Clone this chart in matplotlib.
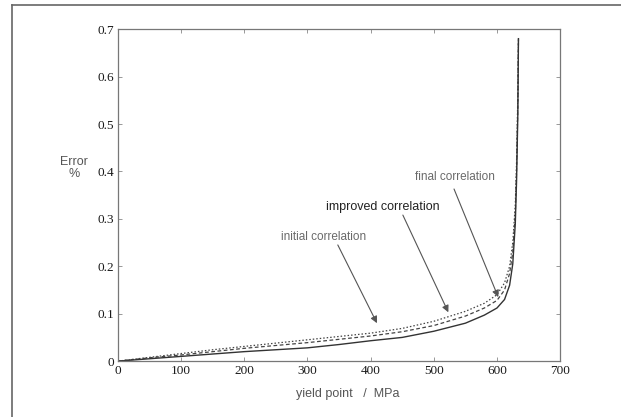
import matplotlib
matplotlib.use("Agg")
import matplotlib.pyplot as plt
from matplotlib.lines import Line2D

# yield point (MPa) and error (%)
yield_pts = [0, 50, 100, 150, 200, 250, 300, 350, 400, 450, 500, 550, 580,
             600, 612, 620, 625, 629, 631, 633, 634]
err_initial = [0, 0.008, 0.016, 0.024, 0.031, 0.038, 0.045, 0.052, 0.059,
               0.069, 0.084, 0.105, 0.122, 0.140, 0.165, 0.200, 0.250,
               0.330, 0.420, 0.560, 0.680]
err_improved = [0, 0.007, 0.013, 0.020, 0.027, 0.033, 0.039, 0.046, 0.053,
                0.062, 0.075, 0.095, 0.112, 0.128, 0.150, 0.185, 0.230,
                0.310, 0.400, 0.540, 0.680]
err_final = [0, 0.005, 0.010, 0.015, 0.020, 0.024, 0.028, 0.035, 0.043,
             0.050, 0.063, 0.080, 0.097, 0.112, 0.130, 0.160, 0.205,
             0.290, 0.380, 0.520, 0.680]

x_ticks = [0, 100, 200, 300, 400, 500, 600, 700]
y_ticks = [0, 0.1, 0.2, 0.3, 0.4, 0.5, 0.6, 0.7]
y_tick_labels = ["0", "0.1", "0.2", "0.3", "0.4", "0.5", "0.6", "0.7"]

# (label, text position, arrow start, arrow tip) in data units
notes = [
    ("initial correlation", (325, 0.261), (348, 0.245), (410, 0.080)),
    ("improved correlation", (420, 0.325), (451, 0.308), (523, 0.103)),
    ("final correlation", (534, 0.388), (532, 0.363), (602, 0.135)),
]

GREY = "#555555"
sans = ["Liberation Sans", "DejaVu Sans"]
serif = ["Liberation Serif", "DejaVu Serif"]

fig = plt.figure(figsize=(6.21, 4.17), dpi=100)
ax = fig.add_axes([0.190, 0.134, 0.712, 0.796])

ax.plot(yield_pts, err_initial, color="#444444", lw=0.9, ls=(0, (1.2, 1.6)))
ax.plot(yield_pts, err_improved, color="#444444", lw=0.9, ls=(0, (3, 2)))
ax.plot(yield_pts, err_final, color="#333333", lw=1.0)

ax.set_xlim(0, 700)
ax.set_ylim(0, 0.7)
ax.set_xticks(x_ticks)
ax.set_yticks(y_ticks)
ax.set_yticklabels(y_tick_labels)
ax.tick_params(direction="in", length=3, width=0.6, color="#888888",
               top=True, right=True, labelsize=9.5, labelcolor="#1a1a1a", pad=3)
for lab in ax.get_xticklabels() + ax.get_yticklabels():
    lab.set_family(serif)
for sp in ax.spines.values():
    sp.set_color("#777777")
    sp.set_linewidth(0.9)

ax.set_xlabel("yield point   /  MPa", fontsize=9, color=GREY, family=sans,
              labelpad=8, x=0.52)
fig.text(74 / 621, 1 - 168 / 417, "Error\n%", fontsize=9, color=GREY,
         family=sans, ha="center", va="center", linespacing=1.1)

for label, txt, start, tip in notes:
    dark = label.startswith("improved")
    ax.text(txt[0], txt[1], label, fontsize=9 if dark else 8.5,
            color="#222222" if dark else "#6a6a6a", family=sans,
            ha="center", va="center")
    ax.annotate("", xy=tip, xytext=start,
                arrowprops=dict(arrowstyle="-|>", color="#555555", lw=0.8,
                                mutation_scale=10, shrinkA=0, shrinkB=0))

# frame of the scanned page
fig.add_artist(Line2D([12 / 621, 1.0], [1 - 5 / 417, 1 - 5 / 417],
                      color="#666666", lw=1.2, transform=fig.transFigure))
fig.add_artist(Line2D([12 / 621, 12 / 621], [1 - 5 / 417, 0.0],
                      color="#666666", lw=1.2, transform=fig.transFigure))

fig.savefig("out.png", dpi=100)
